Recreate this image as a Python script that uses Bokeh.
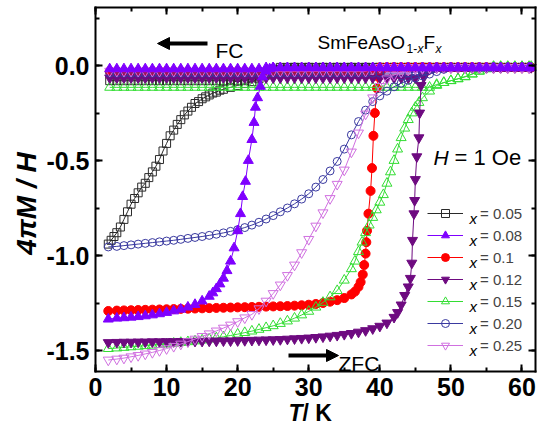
import math
from bokeh.plotting import figure
from bokeh.models import (Range1d, LinearAxis, SingleIntervalTicker, PrintfTickFormatter,
                          CustomJSTickFormatter, Label, Arrow, NormalHead, Legend, LegendItem)
from bokeh.embed import file_html
from bokeh.resources import INLINE

# ---------------- data ----------------
# field-cooled (FC) branch: common temperature grid
fc_T = [2, 3, 4, 5, 6, 7, 8, 9, 10, 11, 12, 13, 14, 15, 16, 17, 18, 19, 20, 21,
        22, 23, 24, 25, 26, 27, 28, 29, 30, 31, 32, 33, 34, 35, 36, 37, 38, 39, 40, 41,
        42, 43, 44, 45, 46, 47, 48, 49, 50, 51, 52, 53, 54, 55, 56, 57, 58, 59, 60, 61]

fc_005 = [-0.08, -0.08, -0.08, -0.08, -0.08, -0.08, -0.08, -0.08, -0.08, -0.08,
          -0.08, -0.08, -0.08, -0.08, -0.08, -0.08, -0.08, -0.08, -0.08, -0.08,
          -0.065, -0.05, -0.035, -0.02, -0.01, -0.01, -0.01, -0.01, -0.01, -0.01,
          -0.01, -0.01, -0.01, -0.01, -0.01, -0.01, -0.01, -0.01, -0.01, -0.01,
          -0.01, -0.01, -0.01, -0.01, -0.01, -0.01, -0.01, -0.01, -0.01, -0.01,
          -0.01, -0.01, -0.01, -0.01, -0.01, -0.01, -0.01, -0.01, -0.01, -0.01]
fc_008 = [-0.018, -0.018, -0.018, -0.018, -0.018, -0.018, -0.018, -0.018, -0.018, -0.018,
          -0.018, -0.018, -0.018, -0.018, -0.018, -0.018, -0.018, -0.018, -0.018, -0.018,
          -0.018, -0.018, -0.012, -0.012, -0.012, -0.012, -0.012, -0.012, -0.012, -0.012,
          -0.012, -0.012, -0.012, -0.012, -0.012, -0.012, -0.012, -0.012, -0.012, -0.012,
          -0.012, -0.012, -0.012, -0.012, -0.012, -0.012, -0.012, -0.012, -0.012, -0.012,
          -0.012, -0.012, -0.012, -0.012, -0.012, -0.012, -0.012, -0.012, -0.012, -0.012]
fc_010 = [-0.03, -0.03, -0.03, -0.03, -0.03, -0.03, -0.03, -0.03, -0.03, -0.03,
          -0.03, -0.03, -0.03, -0.03, -0.03, -0.03, -0.03, -0.03, -0.03, -0.03,
          -0.03, -0.03, -0.03, -0.03, -0.03, -0.03, -0.03, -0.03, -0.03, -0.03,
          -0.03, -0.03, -0.03, -0.03, -0.03, -0.03, -0.03, -0.02, -0.01, -0.01,
          -0.01, -0.01, -0.01, -0.01, -0.01, -0.01, -0.01, -0.01, -0.01, -0.01,
          -0.01, -0.01, -0.01, -0.01, -0.01, -0.01, -0.01, -0.01, -0.01, -0.01]
fc_012 = [-0.065, -0.065, -0.065, -0.065, -0.065, -0.065, -0.065, -0.065, -0.065, -0.065,
          -0.065, -0.065, -0.065, -0.065, -0.065, -0.065, -0.065, -0.065, -0.065, -0.065,
          -0.065, -0.065, -0.065, -0.065, -0.065, -0.065, -0.065, -0.065, -0.065, -0.065,
          -0.065, -0.065, -0.065, -0.065, -0.065, -0.065, -0.065, -0.065, -0.065, -0.065,
          -0.065, -0.065, -0.065, -0.065, -0.045, -0.02, -0.01, -0.01, -0.01, -0.01,
          -0.01, -0.01, -0.01, -0.01, -0.01, -0.01, -0.01, -0.01, -0.01, -0.01]
fc_015 = [-0.115, -0.115, -0.115, -0.115, -0.115, -0.115, -0.115, -0.115, -0.115, -0.115,
          -0.115, -0.115, -0.115, -0.115, -0.115, -0.115, -0.115, -0.115, -0.115, -0.115,
          -0.115, -0.115, -0.115, -0.115, -0.115, -0.115, -0.115, -0.115, -0.115, -0.115,
          -0.115, -0.115, -0.115, -0.115, -0.115, -0.115, -0.115, -0.115, -0.115, -0.115,
          -0.115, -0.115, -0.115, -0.115, -0.115, -0.115, -0.10, -0.09, -0.08, -0.07,
          -0.058, -0.045, -0.03, -0.018, -0.008, -0.008, -0.008, -0.008, -0.008, -0.008]
fc_020 = [-0.04, -0.04, -0.04, -0.04, -0.04, -0.04, -0.04, -0.04, -0.04, -0.04,
          -0.04, -0.04, -0.04, -0.04, -0.04, -0.04, -0.04, -0.04, -0.04, -0.04,
          -0.04, -0.04, -0.04, -0.04, -0.04, -0.04, -0.04, -0.04, -0.04, -0.04,
          -0.04, -0.04, -0.04, -0.04, -0.04, -0.04, -0.04, -0.04, -0.04, -0.04,
          -0.04, -0.04, -0.04, -0.035, -0.03, -0.02, -0.01, -0.01, -0.01, -0.01,
          -0.01, -0.01, -0.01, -0.01, -0.01, -0.01, -0.01, -0.01, -0.01, -0.01]
fc_025 = [-0.03, -0.03, -0.03, -0.03, -0.03, -0.03, -0.03, -0.03, -0.03, -0.03,
          -0.03, -0.03, -0.03, -0.03, -0.03, -0.03, -0.03, -0.03, -0.03, -0.03,
          -0.03, -0.03, -0.03, -0.03, -0.03, -0.03, -0.03, -0.03, -0.03, -0.03,
          -0.03, -0.03, -0.03, -0.03, -0.03, -0.03, -0.03, -0.02, -0.01, -0.01,
          -0.01, -0.01, -0.01, -0.01, -0.01, -0.01, -0.01, -0.01, -0.01, -0.01,
          -0.01, -0.01, -0.01, -0.01, -0.01, -0.01, -0.01, -0.01, -0.01, -0.01]

# zero-field-cooled (ZFC) branches
zfc_005_T = [1.8, 2.2, 2.6, 3.0, 3.5, 4.0, 4.5, 5.0, 5.5, 6.0, 6.5, 7.0, 7.5, 8.0, 8.5,
             9.0, 9.5, 10.0, 10.5, 11.0, 11.5, 12.0, 12.5, 13.0, 13.5, 14.0, 14.5, 15.0,
             15.5, 16.0, 16.5, 17.0, 17.5, 18.0, 19, 20, 21, 22, 23, 24, 25, 26,
             28, 30, 32, 34, 36, 38, 40, 42, 44, 46, 48, 50, 52, 54, 56, 58, 60, 61]
zfc_005 = [-0.94, -0.92, -0.90, -0.88, -0.85, -0.81, -0.77, -0.73, -0.70, -0.67, -0.64,
           -0.62, -0.59, -0.56, -0.53, -0.495, -0.45, -0.41, -0.37, -0.34, -0.31, -0.285,
           -0.26, -0.24, -0.22, -0.20, -0.19, -0.175, -0.165, -0.155, -0.145, -0.14, -0.13,
           -0.125, -0.115, -0.105, -0.095, -0.085, -0.07, -0.05, -0.03, -0.02,
           -0.01, -0.01, -0.01, -0.01, -0.01, -0.01, -0.01, -0.01, -0.01, -0.01, -0.01,
           -0.01, -0.01, -0.01, -0.01, -0.01, -0.01, -0.01]

zfc_008_T = [1.8, 3, 4, 5, 6, 7, 8, 9, 10, 11, 12, 13, 14, 15, 16, 16.5, 17, 17.5, 18,
             18.5, 19, 19.5, 20, 20.4, 20.7, 21.1, 21.5, 22.0, 22.3, 22.5, 22.8, 23.2,
             23.5, 24.0, 24.5, 25, 26, 27, 28, 29, 30, 31, 32, 33, 34, 35, 36, 37, 38, 39,
             40, 41, 42, 43, 44, 45, 46, 47, 48, 49, 50, 51, 52, 53, 54, 55, 56, 57, 58,
             59, 60, 61, 61.3]
zfc_008 = [-1.335, -1.33, -1.328, -1.325, -1.322, -1.318, -1.313, -1.307, -1.30, -1.292,
           -1.283, -1.272, -1.258, -1.24, -1.215, -1.197, -1.175, -1.15, -1.12, -1.08,
           -1.03, -0.96, -0.87, -0.78, -0.69, -0.61, -0.50, -0.39, -0.30, -0.22, -0.17,
           -0.11, -0.06, -0.03, -0.018, -0.012, -0.012, -0.012, -0.012, -0.012, -0.012,
           -0.012, -0.012, -0.012, -0.012, -0.012, -0.012, -0.012, -0.012, -0.012,
           -0.012, -0.012, -0.012, -0.012, -0.012, -0.012, -0.012, -0.012, -0.012,
           -0.012, -0.012, -0.012, -0.012, -0.012, -0.012, -0.012, -0.012, -0.012,
           -0.012, -0.012, -0.012, -0.012, -0.012]

zfc_010_T = [1.8, 3, 4, 5, 6, 7, 8, 9, 10, 11, 12, 13, 14, 15, 16, 17, 18, 19, 20, 21,
             22, 23, 24, 25, 26, 27, 28, 29, 30, 31, 32, 33, 34, 35, 36, 36.5, 37, 37.3,
             37.6, 37.8, 38.0, 38.1, 38.2, 38.4, 38.7, 38.9, 39.1, 39.3, 39.6, 39.8, 40.2,
             41, 42, 43, 44, 45, 46, 47, 48, 49, 50, 51, 52, 53, 54, 55, 56, 57, 58, 59,
             60, 61, 61.3]
zfc_010 = [-1.292, -1.29, -1.289, -1.288, -1.287, -1.286, -1.285, -1.284, -1.283, -1.282,
           -1.281, -1.28, -1.279, -1.278, -1.277, -1.276, -1.275, -1.274, -1.273, -1.272,
           -1.271, -1.27, -1.269, -1.268, -1.267, -1.266, -1.264, -1.262, -1.259, -1.255,
           -1.25, -1.243, -1.235, -1.224, -1.205, -1.19, -1.165, -1.14, -1.10, -1.05,
           -0.99, -0.93, -0.87, -0.78, -0.66, -0.54, -0.37, -0.25, -0.12, -0.06, -0.025,
           -0.01, -0.01, -0.01, -0.01, -0.01, -0.01, -0.01, -0.01, -0.01, -0.01, -0.01,
           -0.01, -0.01, -0.01, -0.01, -0.01, -0.01, -0.01, -0.01, -0.01, -0.01, -0.01]

zfc_012_T = [1.8, 3, 4, 5, 6, 7, 8, 9, 10, 11, 12, 13, 14, 15, 16, 17, 18, 19, 20, 21,
             22, 23, 24, 25, 26, 27, 28, 29, 30, 31, 32, 33, 34, 35, 36, 37, 38, 39, 40,
             41, 42, 42.5, 43, 43.5, 44.0, 44.3, 44.5, 44.6, 44.8, 44.9, 45.0, 45.2, 45.5,
             45.6, 45.8, 46.2, 46.6, 47.5, 48, 49, 50, 51, 52, 53, 54, 55, 56, 57, 58, 59,
             60, 61, 61.3]
zfc_012 = [-1.458, -1.457, -1.456, -1.456, -1.455, -1.455, -1.454, -1.454, -1.453, -1.453,
           -1.452, -1.452, -1.451, -1.451, -1.45, -1.45, -1.449, -1.449, -1.448, -1.447,
           -1.446, -1.445, -1.444, -1.443, -1.442, -1.44, -1.438, -1.436, -1.434, -1.431,
           -1.428, -1.424, -1.42, -1.415, -1.41, -1.403, -1.395, -1.385, -1.372, -1.355,
           -1.325, -1.30, -1.26, -1.21, -1.165, -1.12, -1.04, -0.92, -0.78, -0.71, -0.60,
           -0.48, -0.38, -0.25, -0.105, -0.06, -0.03, -0.015, -0.01, -0.01, -0.01, -0.01,
           -0.01, -0.01, -0.01, -0.01, -0.01, -0.01, -0.01, -0.01, -0.01, -0.01, -0.01]

zfc_015_T = [1.8, 3, 4, 5, 6, 7, 8, 9, 10, 11, 12, 13, 14, 15, 16, 17, 18, 19, 20, 21,
             22, 23, 24, 25, 26, 27, 28, 29, 30, 31, 32, 33, 34, 35, 36, 36.5, 37, 37.5,
             38, 38.5, 39, 39.5, 40, 40.5, 41, 41.5, 42, 42.5, 43, 43.5, 44, 44.5, 45,
             45.5, 46, 47, 48, 49, 50, 51, 52, 53, 54, 55, 56, 57, 58, 59, 60, 61, 61.3]
zfc_015 = [-1.49, -1.487, -1.484, -1.481, -1.478, -1.475, -1.472, -1.469, -1.466, -1.462,
           -1.458, -1.454, -1.45, -1.445, -1.44, -1.434, -1.428, -1.421, -1.414, -1.406,
           -1.398, -1.389, -1.38, -1.37, -1.358, -1.345, -1.33, -1.313, -1.294, -1.272,
           -1.247, -1.218, -1.185, -1.13, -1.07, -1.03, -0.98, -0.93, -0.88, -0.84, -0.80,
           -0.76, -0.72, -0.68, -0.62, -0.56, -0.50, -0.44, -0.38, -0.33, -0.285, -0.25,
           -0.22, -0.195, -0.17, -0.135, -0.105, -0.09, -0.08, -0.07, -0.06, -0.045, -0.03,
           -0.015, -0.005, -0.005, -0.005, -0.005, -0.005, -0.005, -0.005]

zfc_020_T = [1.8, 3, 4, 5, 6, 7, 8, 9, 10, 11, 12, 13, 14, 15, 16, 17, 18, 19, 20, 21,
             22, 23, 24, 25, 26, 27, 28, 29, 30, 31, 32, 33, 34, 35, 36, 37, 38, 39, 40,
             41, 42, 43, 44, 45, 46, 47, 48, 49, 50, 52, 54, 56, 58, 60, 61]
zfc_020 = [-0.955, -0.952, -0.948, -0.944, -0.94, -0.936, -0.932, -0.928, -0.924, -0.92,
           -0.915, -0.91, -0.905, -0.90, -0.894, -0.888, -0.881, -0.873, -0.864, -0.853,
           -0.84, -0.825, -0.808, -0.79, -0.77, -0.75, -0.728, -0.703, -0.675, -0.64,
           -0.60, -0.555, -0.505, -0.44, -0.365, -0.295, -0.235, -0.19, -0.16, -0.135,
           -0.112, -0.093, -0.078, -0.066, -0.055, -0.045, -0.032, -0.02, -0.01, -0.01,
           -0.01, -0.01, -0.01, -0.01, -0.01]

zfc_025_T = [1.8, 3, 4, 5, 6, 7, 8, 9, 10, 11, 12, 13, 14, 15, 16, 17, 18, 19, 20, 21,
             22, 23, 24, 25, 26, 27, 28, 29, 30, 31, 32, 33, 34, 35, 36, 37, 38, 39, 40,
             41, 42, 43, 44, 45, 46, 47, 48, 50, 52, 54, 56, 58, 60, 61]
zfc_025 = [-1.55, -1.545, -1.54, -1.533, -1.526, -1.518, -1.51, -1.50, -1.49, -1.478,
           -1.466, -1.453, -1.44, -1.426, -1.412, -1.397, -1.382, -1.366, -1.348, -1.328,
           -1.31, -1.28, -1.24, -1.20, -1.155, -1.105, -1.05, -0.985, -0.915, -0.845,
           -0.775, -0.70, -0.625, -0.55, -0.455, -0.355, -0.255, -0.17, -0.11, -0.07,
           -0.05, -0.035, -0.025, -0.02, -0.016, -0.013, -0.01, -0.01, -0.01, -0.01,
           -0.01, -0.01, -0.01, -0.01]

labels = ["0.05", "0.08", "0.1", "0.12", "0.15", "0.20", "0.25"]
colors = ["#2a2a2a", "#7f00ff", "#ff0000", "#6e0a80", "#33dd33", "#3a3aa0", "#d070e0"]
markers = ["square", "triangle", "circle", "inverted_triangle", "triangle", "circle",
           "inverted_triangle"]
filled = [False, True, True, True, False, False, False]
sizes = [8, 10, 9, 10, 10, 8, 10]

zfc_T = [zfc_005_T, zfc_008_T, zfc_010_T, zfc_012_T, zfc_015_T, zfc_020_T, zfc_025_T]
zfc_V = [zfc_005, zfc_008, zfc_010, zfc_012, zfc_015, zfc_020, zfc_025]
fc_V = [fc_005, fc_008, fc_010, fc_012, fc_015, fc_020, fc_025]

# ---------------- layout (page pixels of the reference) ----------------
W, H = 537, 427
BOX_L, BOX_R, BOX_T, BOX_B = 95, 535, 7, 371      # plot box edges
X0_PX, PX_PER_K = 95.0, 7.108                      # T = 0 position, scale
Y0_PX, PX_PER_U = 65.0, 190.0                      # 4piM/H = 0 position, scale


def tx(px):
    return (px - X0_PX) / PX_PER_K


def ty(py):
    return (Y0_PX - py) / PX_PER_U


p = figure(width=W, height=H, output_backend="svg", toolbar_location=None,
           x_range=Range1d(tx(0), tx(W)), y_range=Range1d(ty(H), ty(0)),
           x_axis_location=None, y_axis_location=None,
           min_border=0, min_border_left=0, min_border_right=0, min_border_top=0,
           min_border_bottom=0)
p.background_fill_color = "white"
p.border_fill_color = "white"
p.outline_line_color = None
p.grid.visible = False

xb = (tx(BOX_L), tx(BOX_R))
yb = (ty(BOX_B), ty(BOX_T))


def style_axis(ax, show_labels):
    ax.axis_line_width = 2
    ax.axis_line_color = "black"
    ax.axis_line_cap = "square"
    ax.major_tick_in = 7
    ax.major_tick_out = 0
    ax.minor_tick_in = 4
    ax.minor_tick_out = 0
    ax.major_tick_line_width = 2
    ax.minor_tick_line_width = 2
    ax.major_tick_line_color = "black"
    ax.minor_tick_line_color = "black"
    if show_labels:
        ax.major_label_text_font = "Liberation Sans"
        ax.major_label_text_font_style = "bold"
        ax.major_label_text_font_size = "25px"
        ax.major_label_text_color = "black"
        ax.major_label_standoff = 6
    else:
        ax.formatter = CustomJSTickFormatter(code="return ''")
        ax.major_label_standoff = 0


for loc, fx in [("below", yb[0]), ("above", yb[1])]:
    ax = LinearAxis(ticker=SingleIntervalTicker(interval=10, num_minor_ticks=2),
                    fixed_location=fx, bounds=xb)
    style_axis(ax, loc == "below")
    p.add_layout(ax, loc)
for loc, fx in [("left", xb[0]), ("right", xb[1])]:
    ax = LinearAxis(ticker=SingleIntervalTicker(interval=0.5, num_minor_ticks=2),
                    formatter=PrintfTickFormatter(format="%.1f"),
                    fixed_location=fx, bounds=yb)
    style_axis(ax, loc == "left")
    p.add_layout(ax, loc)

draw_order = [0, 2, 4, 3, 5, 6, 1]
legend_refs = {}
for i in draw_order:
    c = colors[i]
    fill = c if filled[i] else None
    for T, V in [(zfc_T[i], zfc_V[i]), (fc_T, fc_V[i])]:
        ln = p.line(T, V, line_color=c, line_width=1)
        sc = p.scatter(T, V, marker=markers[i], size=sizes[i], line_color=c,
                       fill_color=fill, line_width=1)
        if i not in legend_refs:
            legend_refs[i] = [ln, sc]

items = [LegendItem(label="= " + labels[i], renderers=legend_refs[i]) for i in range(7)]
legend = Legend(items=items, location=(427, H - 355), padding=0, spacing=2, margin=0,
                glyph_width=36, glyph_height=20, label_height=20, label_standoff=17,
                label_text_font="Liberation Sans", label_text_font_size="15px",
                border_line_color=None, background_fill_alpha=0)
p.add_layout(legend)


def txt(text, px, py, size, style="normal", align="left", baseline="alphabetic", angle=0.0):
    p.add_layout(Label(x=px, y=H - py, x_units="screen", y_units="screen",
                       text=text, text_font="Liberation Sans", text_font_size=f"{size}px",
                       text_font_style=style, text_align=align, text_baseline=baseline,
                       angle=angle, text_color="black"))


# legend italic x
for k in range(7):
    txt("x", 469, 218 + 22 * k, 15, "italic")

# annotations
txt("FC", 215, 50, 21)
txt("ZFC", 338, 363, 21)
txt("SmFeAsO", 317, 42, 19)
txt("1-", 406, 48, 12)
txt("x", 417, 48, 12, "italic")
txt("F", 423, 42, 19)
txt("x", 435, 48, 12, "italic")
txt("H", 433, 157, 21, "italic")
txt("= 1 Oe", 454, 157, 22)
txt("4\u03c0M / H", 26, 203, 28, "bold italic", "center", "middle", math.pi / 2)
txt("T", 288, 399, 23, "bold italic", baseline="top")
txt(" / K", 302, 399, 23, "bold", baseline="top")

head = dict(size=12, fill_color="black", line_color="black")
p.add_layout(Arrow(end=NormalHead(**head), x_start=tx(207), y_start=ty(43),
                   x_end=tx(157), y_end=ty(43), line_width=4, line_color="black"))
p.add_layout(Arrow(end=NormalHead(**head), x_start=tx(288), y_start=ty(355),
                   x_end=tx(338), y_end=ty(355), line_width=4, line_color="black"))

open("out.html", "w").write(file_html(p, INLINE))
